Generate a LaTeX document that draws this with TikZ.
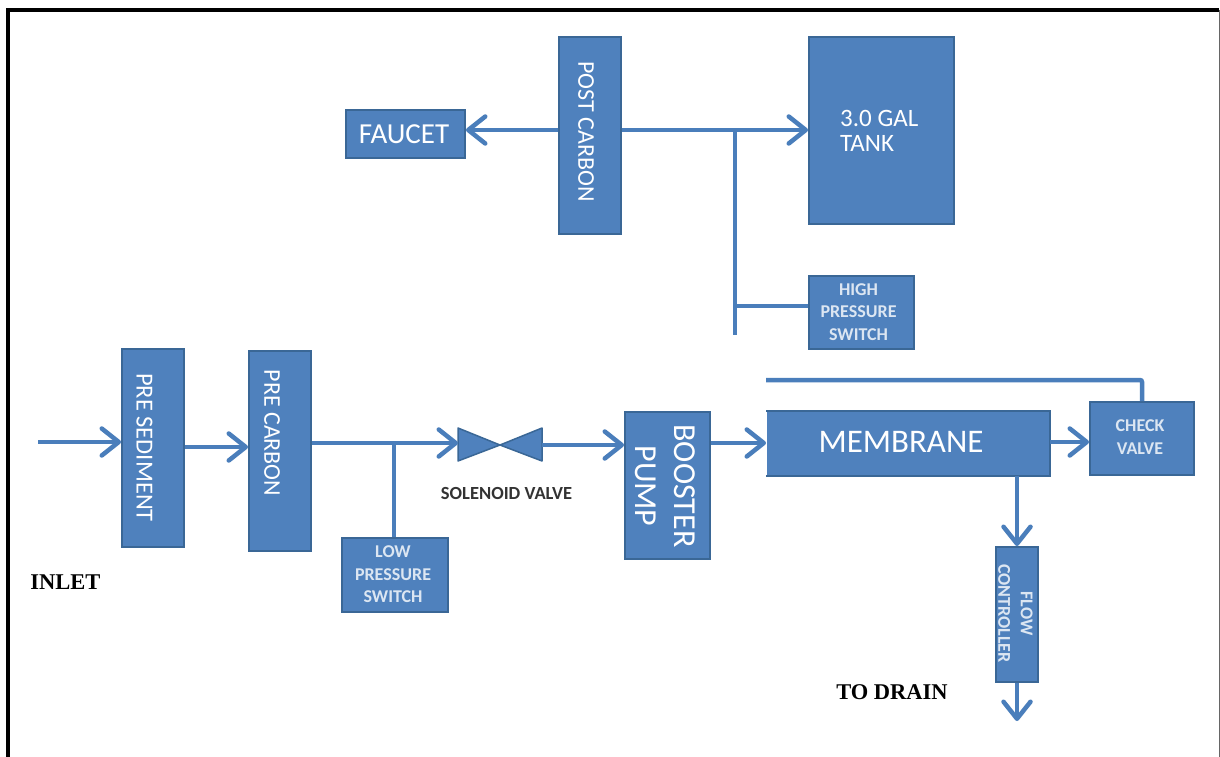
\documentclass[tikz,border=0pt]{standalone}
\usepackage{fontspec}
\setmainfont{Carlito}
\newfontfamily\serifbold{Liberation Serif}[Scale=1]
\usetikzlibrary{arrows.meta}
\definecolor{boxfill}{HTML}{4F81BD}
\definecolor{boxedge}{HTML}{3A6796}
\definecolor{pipe}{HTML}{4A7EBB}
\definecolor{pale}{HTML}{DCE6F2}
\tikzset{
  blockbox/.style={draw=boxedge,line width=2pt,fill=boxfill,inner sep=0pt,anchor=north west},
  boxtext/.style={text=white,inner sep=0pt,align=center,font=\fontsize{#1}{#1}\selectfont},
  sidetext/.style={boxtext=#1,rotate=-90},
  smalltext/.style={text=pale,inner sep=0pt,align=center,font=\bfseries\fontsize{18}{22.5}\selectfont},
  blacktext/.style={text=black,inner sep=0pt,font=\serifbold\bfseries\fontsize{22.5}{22.5}\selectfont},
  pipeline/.style={draw=pipe,line width=4.5pt},
  flow/.style={pipeline,-{Straight Barb[length=17pt,width=27pt,line width=4.5pt,round]}},
  blockat/.style args={#1x#2}{minimum width=#1pt,minimum height=#2pt},
}
\begin{document}
\begin{tikzpicture}[x=1pt,y=-1pt]
\useasboundingbox (0,0) rectangle (1220,757);
% outer frame
\coordinate (fbl) at (8.2,757);
\coordinate (ftl) at (8.2,9.8);
\coordinate (ftr) at (1219.3,9.8);
\coordinate (fbr) at (1219.3,757);
\draw[black!60,line width=1.3pt] (ftr) -- (fbr);
\draw[black,line width=3.6pt] (fbl) -- (ftl) -- (ftr);
% blocks
\node[blockbox,blockat=119x48] (faucet) at (345,109) {};
\node[blockbox,blockat=62x197] (post) at (558,36) {};
\node[blockbox,blockat=145x187] (tank) at (808,36) {};
\node[blockbox,blockat=105x73] (high) at (808,275) {};
\node[blockbox,blockat=62x198] (sed) at (121,348) {};
\node[blockbox,blockat=62x200] (carbon) at (248,350) {};
\node[blockbox,blockat=106x74] (low) at (341,537) {};
\node[blockbox,blockat=85x147] (booster) at (624,411) {};
\node[blockbox,draw=none,blockat=282x63] (membrane) at (766,410.5) {};
\draw[boxedge,line width=2pt] (membrane.north west) -- (membrane.north east) -- (membrane.south east) -- (membrane.south west);
\node[blockbox,blockat=104x73] (check) at (1089,401) {};
\node[blockbox,blockat=42x135] (flowc) at (995,546) {};
% valve
\coordinate (vl) at (458,445);
\coordinate (vc) at (500,445);
\coordinate (vr) at (542,445);
\fill[boxfill,draw=boxedge,line width=1.5pt,line join=round] (458,428) -- (vc) -- (458,461) -- cycle;
\fill[boxfill,draw=boxedge,line width=1.5pt,line join=round] (542,428) -- (vc) -- (542,461) -- cycle;
% junction coordinates
\coordinate (topj) at (735,130);
\coordinate (topend) at (735,335);
\coordinate (highj) at (735,306);
\coordinate (lowj) at (394,443);
\coordinate (inletstart) at (38,442);
\coordinate (recstart) at (766,380);
\coordinate (recturn) at (1142,380);
\coordinate (drainend) at (1017,721);
% connectors
\draw[flow] (post.west |- topj) -- (faucet.east |- topj);
\draw[flow] (post.east |- topj) -- (tank.west |- topj);
\draw[pipeline] (topj) -- (topend);
\draw[pipeline] (highj) -- (high.west |- highj);
\draw[flow] (inletstart) -- (sed.west |- inletstart);
\draw[flow] (sed.east |- 0,447) -- (carbon.west |- 0,447);
\draw[flow] (carbon.east |- lowj) -- (vl |- lowj);
\draw[pipeline] (lowj) -- (lowj |- low.north);
\draw[flow] (vr) -- (booster.west |- vr);
\draw[flow] (booster.east |- 0,443) -- (membrane.west |- 0,443);
\draw[flow] (membrane.east |- 0,442) -- (check.west |- 0,442);
\draw[pipeline,rounded corners=2pt] (recstart) -- (recturn) -- (recturn |- check.north);
\draw[flow] (drainend |- membrane.south) -- (drainend |- flowc.north);
\draw[flow] (drainend |- flowc.south) -- (drainend);
% labels
\node[boxtext=29] (tfaucet) at (404,134) {FAUCET};
\node[sidetext=24] (tpost) at (586,131.5) {POST CARBON};
\node[text=white,inner sep=0pt,align=left,anchor=west,font=\fontsize{25}{25}\selectfont] (ttank) at (840,130.5) {3.0 GAL\\TANK};
\node[smalltext] (thigh) at (858.5,312) {HIGH\\PRESSURE\\SWITCH};
\node[sidetext=24.5] (tsed) at (144.5,447.5) {PRE SEDIMENT};
\node[sidetext=24] (tcarbon) at (272,433) {PRE CARBON};
\node[smalltext] (tlow) at (393,574.5) {LOW\\PRESSURE\\SWITCH};
\node[text=white,inner sep=0pt,align=center,rotate=-90,font=\fontsize{32}{39}\selectfont] (tbooster) at (665,486) {BOOSTER\\PUMP};
\node[boxtext=33] (tmembrane) at (901,442) {MEMBRANE};
\node[smalltext] (tcheck) at (1140,437) {CHECK\\VALVE};
\node[smalltext,rotate=-90] (tflow) at (1015.5,613.5) {FLOW\\CONTROLLER};
\node[text=black!80,inner sep=0pt,font=\bfseries\fontsize{18.5}{18.5}\selectfont] (tsol) at (506.5,493) {SOLENOID VALVE};
\node[blacktext] (tinlet) at (65.5,582) {INLET};
\node[blacktext] (tdrain) at (892,692) {TO DRAIN};
\end{tikzpicture}
\end{document}
